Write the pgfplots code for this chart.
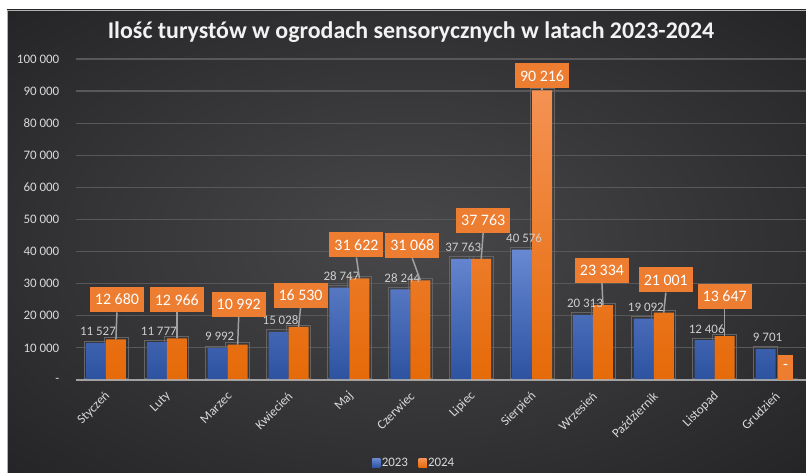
\documentclass[border=0pt]{standalone}
\usepackage{fontspec}
\setmainfont{Carlito}
\usepackage{pgfplots}
\usepackage{pgfplotstable}
\pgfplotsset{compat=1.18}
\definecolor{bgin}{RGB}{72,72,74}
\definecolor{bgout}{RGB}{22,22,25}
\definecolor{blueT}{RGB}{104,136,210}
\definecolor{blueB}{RGB}{44,82,160}
\definecolor{orangeT}{RGB}{244,146,84}
\definecolor{orangeB}{RGB}{230,106,8}
\definecolor{boxc}{RGB}{237,125,49}
\definecolor{leadc}{RGB}{160,160,160}
\definecolor{gridc}{RGB}{88,88,88}
\definecolor{outc}{RGB}{100,100,100}
\definecolor{tickc}{RGB}{217,217,217}
\definecolor{labc}{RGB}{205,205,205}
\definecolor{labw}{RGB}{245,245,245}
\definecolor{titlec}{RGB}{242,242,242}
\definecolor{axc}{RGB}{180,180,180}
\pgfdeclareradialshading{bgshade}{\pgfpoint{0bp}{0bp}}{color(0bp)=(bgin); color(50bp)=(bgout)}
\pgfplotstableread[col sep=comma]{
x,y23,y24,l23,l24,dx,dy
0,11527,12680,11 527,12 680,1,27
1,11777,12966,11 777,12 966,0,26
2,9992,10992,9 992,10 992,1,28
3,15028,16530,15 028,16 530,2,19
4,28747,31622,28 747,31 622,-3,21
5,28244,31068,28 244,31 068,-8,22
6,37763,37763,37 763,37 763,2,26
7,40576,90216,40 576,90 216,0,2
8,20313,23334,20 313,23 334,-1,22
9,19092,21001,19 092,21 001,2,20
10,12406,13647,12 406,13 647,0,27
11,9701,0,9 701,-,0,0
}\data
\begin{document}
\begin{tikzpicture}
\useasboundingbox (0,0) rectangle (806bp,473bp);
\fill[white] (0,0) rectangle (806bp,473bp);
\shade[shading=bgshade] (7bp,0) rectangle (806bp,463bp);
\draw[gray!60, line width=0.8bp] (7bp,0) -- (7bp,463bp) -- (806bp,463bp);
\node[font=\bfseries\fontsize{24}{28}\selectfont, text=titlec] at (411bp,441bp) {Ilość turystów w ogrodach sensorycznych w latach 2023-2024};
\begin{axis}[
  at={(75.5bp,93bp)}, anchor=south west,
  scale only axis, width=730.5bp, height=321bp,
  xmin=-0.5, xmax=11.5, ymin=0, ymax=100000,
  axis line style={draw=none},
  major tick length=0pt,
  scaled y ticks=false,
  /pgf/number format/assume math mode=true,
  ytick={0,10000,20000,30000,40000,50000,60000,70000,80000,90000,100000},
  yticklabels={-\hspace{6bp},10 000,20 000,30 000,40 000,50 000,60 000,70 000,80 000,90 000,100 000},
  xtick={0,1,2,3,4,5,6,7,8,9,10,11},
  xticklabels={Styczeń,Luty,Marzec,Kwiecień,Maj,Czerwiec,Lipiec,Sierpień,Wrzesień,Październik,Listopad,Grudzień},
  ymajorgrids, grid style={draw=gridc, line width=1.2bp},
  tick label style={font=\fontsize{13}{15}\selectfont, text=tickc},
  yticklabel style={anchor=east, inner sep=0pt, xshift=-16bp},
  xticklabel style={xshift=2bp, yshift=-14bp, rotate=45, anchor=east, inner sep=0pt},
  clip=false,
  legend style={at={(0.4634,-0.2586)}, anchor=center, legend columns=2, draw=none, fill=none, text=tickc, font=\fontsize{13}{15}\selectfont, inner xsep=0pt, inner ysep=0pt, nodes={inner sep=1.5bp}, /tikz/every even column/.append style={column sep=9bp}},
]
% faint outline (shadow) around each bar
\addplot[ybar, bar width=24bp, bar shift=-10bp, draw=outc, line width=0.8bp, fill=none, yshift=2bp, forget plot] table[x=x, y=y23]{\data};
\addplot[ybar, bar width=24bp, bar shift=10bp, draw=outc, line width=0.8bp, fill=none, yshift=2bp, forget plot] table[x=x, y=y24]{\data};
\addplot[ybar, bar width=20bp, bar shift=-10bp, draw=none, top color=blueT, bottom color=blueB,
  point meta=explicit symbolic, nodes near coords,
  every node near coord/.append style={anchor=base, yshift=7bp, xshift=-8bp, font=\fontsize{13}{15}\selectfont, text=labc, inner sep=0pt},
  coordinate style/.condition={x==0 || x==1 || x==3 || x==6 || x==8 || x==9 || x==10}{font=\bfseries\fontsize{13}{15}\selectfont, text=labw},
  legend image code/.code={\fill[blueB!80!blueT] (0bp,-4.5bp) rectangle (8bp,4.5bp);}
] table[x=x, y=y23, meta=l23]{\data};
\addlegendentry{2023}
\addplot[ybar, bar width=20bp, bar shift=10bp, draw=none, top color=orangeT, bottom color=orangeB,
  point meta=explicit symbolic, nodes near coords,
  visualization depends on={\thisrow{dx} \as \lx},
  visualization depends on={\thisrow{dy} \as \ly},
  visualization depends on={-\thisrow{dx} \as \nlx},
  visualization depends on={-\thisrow{dy} \as \nly},
  every node near coord/.append style={anchor=south, xshift=\lx bp + 10bp, yshift=\ly bp, fill=boxc, text=white, font=\fontsize{16}{18}\selectfont, inner xsep=5bp, inner ysep=0pt, minimum height=25bp,
    append after command={(\tikzlastnode.south) edge[draw=leadc, line width=1.5bp] ++(\nlx bp,\nly bp)}},
  coordinate style/.condition={x==7}{font=\bfseries\fontsize{21}{24}\selectfont, minimum height=31bp, inner xsep=6bp},
  legend image code/.code={\fill[boxc] (0bp,-4.5bp) rectangle (8bp,4.5bp);}
] table[x=x, y=y24, meta=l24]{\data};
\addlegendentry{2024}
\draw[draw=axc, line width=2.5bp, opacity=0.8] (axis cs:-0.5,0) -- (axis cs:11.5,0);
\end{axis}
\end{tikzpicture}
\end{document}
